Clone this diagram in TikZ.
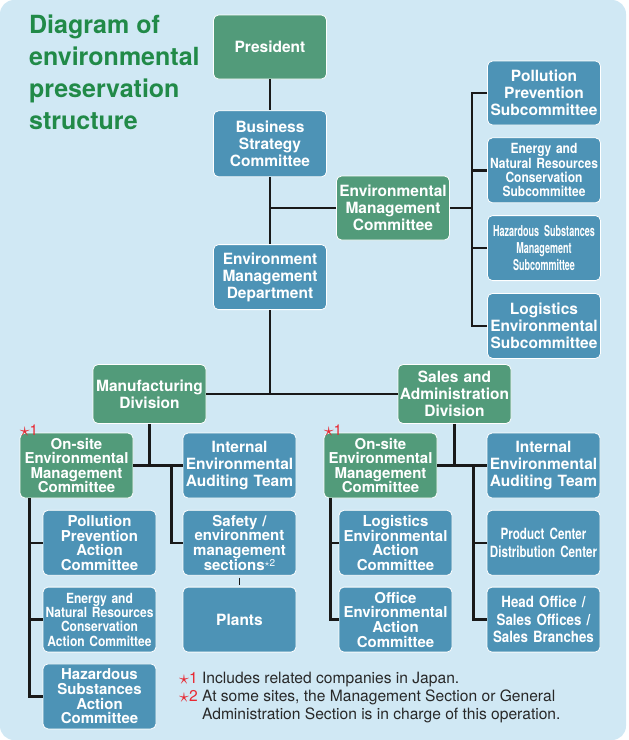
\documentclass[tikz,border=0pt]{standalone}
\usepackage{fontspec}
\setmainfont{TeX Gyre Heros}
\newfontfamily\narrowfont[FakeStretch=0.86]{TeX Gyre Heros}
\newfontfamily\tightfont[FakeStretch=0.75]{TeX Gyre Heros}
\newfontfamily\slimfont[FakeStretch=0.6]{TeX Gyre Heros}
\usetikzlibrary{positioning,calc}
\definecolor{bgblue}{RGB}{208,232,244}
\definecolor{boardgreen}{RGB}{82,155,122}
\definecolor{teamblue}{RGB}{77,147,182}
\definecolor{titlegreen}{RGB}{33,138,72}
\definecolor{starred}{RGB}{232,40,50}
\definecolor{notegray}{RGB}{40,40,40}
\newcommand{\redstar}{{\color{starred}\smash{\raisebox{-1pt}{\scalebox{1.4}{$\star$}}}}}
\tikzstyle{board} = [rectangle, rounded corners=5pt, minimum width=113pt, minimum height=65pt, text width=110pt, inner sep=0pt, align=center, draw=white, line width=0.8pt, fill=boardgreen, text=white, font=\fontsize{15.5}{17}\selectfont\bfseries]
\tikzstyle{team} = [board, fill=teamblue]
\tikzstyle{fourline} = [font=\fontsize{15}{14.6}\selectfont\bfseries]
\tikzstyle{narrowtext} = [font=\narrowfont\fontsize{14}{14.4}\selectfont\bfseries]
\tikzstyle{tighttext} = [font=\tightfont\fontsize{15.5}{18}\selectfont\bfseries]
\tikzstyle{slimtext} = [font=\slimfont\fontsize{15}{16.7}\selectfont\bfseries]
\tikzstyle{officetext} = [font=\narrowfont\fontsize{15.5}{17.5}\selectfont\bfseries]
\tikzstyle{starnote} = [text=starred, inner sep=0pt, font=\fontsize{15}{15}\selectfont]
\tikzstyle{link} = [line width=2.4pt, color=black!90]

\begin{document}
\begin{tikzpicture}[x=1pt,y=-1pt]

\useasboundingbox (0,0) rectangle (629,740);
\fill [bgblue, rounded corners=14pt] (0,0) rectangle (626,740);

\node (title) [anchor=north west, inner sep=0pt, align=left, text=titlegreen, font=\fontsize{25}{32}\selectfont\bfseries] at (29,15) {Diagram of\\environmental\\preservation\\structure};

\node (president) [board, minimum height=64pt] at (270,47) {President};
\node (strategy) [team, minimum height=66pt, below=31pt of president] {Business\\Strategy\\Committee};
\node (envdept) [team, below=67pt of strategy] {Environment\\Management\\Department};
%
\node (envcom) [board, minimum height=64pt] at (393,208) {Environmental\\Management\\Committee};
	\node (pollsub) [team, minimum height=64pt] at (544,93) {Pollution\\Prevention\\Subcommittee};
	\node (energysub) [team, narrowtext, below=12pt of pollsub] {Energy and\\Natural Resources\\Conservation\\Subcommittee};
	\node (hazsub) [team, slimtext, below=12pt of energysub] {Hazardous Substances\\Management\\Subcommittee};
	\node (logsub) [team, below=12pt of hazsub] {Logistics\\Environmental\\Subcommittee};
%
\node (mfg) [board, minimum height=59pt] at (149.5,394) {Manufacturing\\Division};
	\node (mfgsite) [board, fourline] at (76.5,465.5) {On-site\\Environmental\\Management\\Committee};
	\node (star1a) [starnote, anchor=south west] at ([yshift=-3pt]mfgsite.north west) {\redstar1};
		\node (pollact) [team, fourline, below=11.5pt of mfgsite, xshift=23pt] {Pollution\\Prevention\\Action\\Committee};
		\node (energyact) [team, narrowtext, below=11pt of pollact] {Energy and\\Natural Resources\\Conservation\\Action Committee};
		\node (hazact) [team, fourline, below=11pt of energyact] {Hazardous\\Substances\\Action\\Committee};
	\node (mfgaudit) [team] at (239.5,465.5) {Internal\\Environmental\\Auditing Team};
	\node (safety) [team, fourline, below=11.5pt of mfgaudit] {Safety /\\environment\\management\\sections\raisebox{4pt}{\mdseries\fontsize{10}{10}\selectfont$\star$2}};
	\node (plants) [team, below=11pt of safety] {Plants};
%
\node (sales) [board, minimum height=59pt] at (454.5,394) {Sales and\\Administration\\Division};
	\node (salessite) [board, fourline] at (380.5,465.5) {On-site\\Environmental\\Management\\Committee};
	\node (star1b) [starnote, anchor=south west] at ([yshift=-3pt]salessite.north west) {\redstar1};
		\node (logact) [team, fourline, below=11.5pt of salessite, xshift=15pt] {Logistics\\Environmental\\Action\\Committee};
		\node (officeact) [team, fourline, below=11pt of logact] {Office\\Environmental\\Action\\Committee};
	\node (salesaudit) [team] at (543.5,465.5) {Internal\\Environmental\\Auditing Team};
	\node (centers) [team, tighttext, below=11.5pt of salesaudit] {Product Center\\Distribution Center};
	\node (offices) [team, officetext, below=11pt of centers] {Head Office /\\Sales Offices /\\Sales Branches};
%
\node (notes) [anchor=north west, inner sep=0pt, align=left, text=notegray, font=\fontsize{15.6}{17.8}\selectfont] at (179,672) {\redstar{\color{starred}1} Includes related companies in Japan.\\\redstar{\color{starred}2} At some sites, the Management Section or General\\\phantom{\redstar2 }Administration Section is in charge of this operation.};
%
\draw [link] (president) -- (strategy);
\draw [link] (strategy) -- (envdept);
\draw [link] (envdept) -- (envdept |- mfg);
\draw [link] (envcom) -- (envcom -| strategy);
	\draw [link] (envcom.east) -- ++(22,0) coordinate (subbus);
	\foreach \sub in {pollsub,energysub,hazsub,logsub}
		\draw [link] (\sub.west) -| (subbus);
\draw [link] (mfg) -- (sales);
	\draw [link] (mfg) -- (mfg |- mfgsite);
	\draw [link] (mfgsite) -- (mfgaudit);
	\draw [link] (safety.west) -| ([xshift=-11pt]mfgaudit.west);
	\draw [link, line width=1pt, shorten <=2pt, shorten >=2pt] (safety) -- (plants);
		\foreach \act in {pollact,energyact,hazact}
			\draw [link] (\act.west) -| ([xshift=10pt]mfgsite.south west);
	\draw [link] (sales) -- (sales |- salessite);
	\draw [link] (salessite) -- (salesaudit);
	\foreach \unit in {centers,offices}
		\draw [link] (\unit.west) -| ([xshift=-13pt]salesaudit.west);
		\foreach \act in {logact,officeact}
			\draw [link] (\act.west) -| ([xshift=7pt]salessite.south west);
\end{tikzpicture}
\end{document}
